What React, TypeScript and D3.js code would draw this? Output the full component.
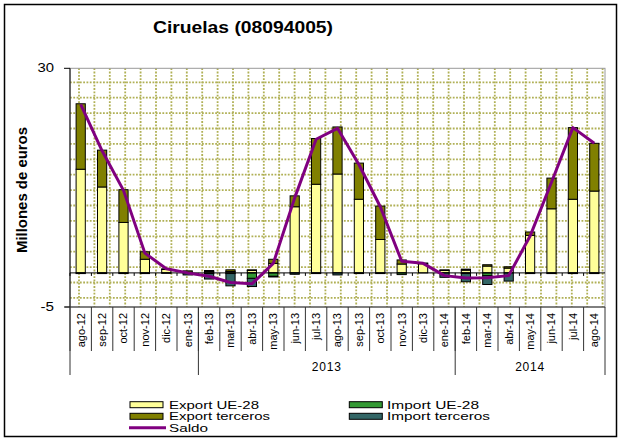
import React from 'react';
import * as d3 from 'd3';

const months = ['ago-12','sep-12','oct-12','nov-12','dic-12','ene-13','feb-13','mar-13','abr-13','may-13','jun-13','jul-13','ago-13','sep-13','oct-13','nov-13','dic-13','ene-14','feb-14','mar-14','abr-14','may-14','jun-14','jul-14','ago-14'];
const exportUE = [15.2,12.6,7.4,2.0,0.5,0.1,0.2,0.2,0.35,1.4,9.7,13.0,14.5,10.8,4.9,1.3,1.35,0.35,0.4,1.0,0.7,5.5,9.4,10.8,12.0];
const exportTerceros = [9.6,5.4,4.8,1.1,0.1,0.2,0.15,0.25,0.1,0.6,1.6,6.7,6.9,5.3,4.9,0.6,0.1,0.1,0.15,0.2,0.2,0.5,4.5,10.5,7.0];
const importUE = [0,0,0,0,0,0,-0.1,-0.1,-0.8,-0.5,0,0,0,0,0,-0.25,0,0,-0.1,-0.4,0,0,0,0,0];
const importTerceros = [-0.1,-0.1,-0.1,-0.1,-0.05,-0.3,-0.8,-1.8,-1.2,-0.1,-0.2,-0.1,-0.3,-0.1,-0.1,0,0,-0.65,-1.2,-1.3,-1.2,-0.1,-0.1,-0.1,-0.1];
const saldo = [24.7,17.9,12.1,2.9,0.6,0.0,-0.5,-1.4,-1.6,1.4,11.0,19.6,21.2,15.9,9.7,1.7,1.4,-0.4,-0.75,-0.7,-0.4,5.4,13.3,21.3,19.0];

const yearLabels = ['', '2013', '2014'];
const yearSpans = [6, 12, 7];
const yTicks = [30, -5];

const seriesKeys = ['Export UE-28', 'Export terceros', 'Import UE-28', 'Import terceros'];
const seriesColors = ['#FFFF99', '#808000', '#339933', '#336666'];
const saldoColor = '#800080';

const FONT = 'Arial, "Liberation Sans", sans-serif';

export default function App() {
  const W = 621, H = 441;
  const left = 70, right = 605, top = 68.3, bottom = 307;

  const x = d3.scaleBand<string>().domain(months).range([left, right]).paddingInner(0).paddingOuter(0);
  const y = d3.scaleLinear().domain([-5, 30]).range([bottom, top]);
  const bw = x.bandwidth();
  const barW = bw * 0.43;

  const rows = months.map((m, i) => ({
    month: m,
    'Export UE-28': exportUE[i],
    'Export terceros': exportTerceros[i],
    'Import UE-28': importUE[i],
    'Import terceros': importTerceros[i],
  }));
  const stacked = d3.stack<any>().keys(seriesKeys).offset(d3.stackOffsetDiverging)(rows);

  const line = d3.line<number>()
    .x((_, i) => (x(months[i]) as number) + bw / 2)
    .y((d) => y(d));

  // background pattern of plot area (dotted grid)
  const cell = 15.4;
  const vLines: number[] = [];
  for (let gx = 79; gx < right; gx += cell) vLines.push(gx);
  const hLines: number[] = [];
  for (let gy = 82.3; gy < bottom; gy += cell) hLines.push(gy);

  const groupBounds: number[] = [0];
  yearSpans.forEach((s, i) => groupBounds.push(groupBounds[i] + s));
  const bx = (i: number) => (i < months.length ? (x(months[i]) as number) : right);

  const legendItems = [
    { key: 'Export UE-28', color: seriesColors[0], x: 130, y: 401.7, tx: 169, tl: 90 },
    { key: 'Export terceros', color: seriesColors[1], x: 130, y: 413.3, tx: 169, tl: 101 },
    { key: 'Import UE-28', color: seriesColors[2], x: 349.3, y: 401.7, tx: 387, tl: 92 },
    { key: 'Import terceros', color: seriesColors[3], x: 349.3, y: 413.3, tx: 387, tl: 103 },
  ];

  return (
    <svg width={W} height={H} style={{ position: 'absolute', left: 0, top: 0, background: '#fff' }} fontFamily={FONT}>
      <rect x={0} y={0} width={W} height={H} fill="#fff" />
      <rect x={4.5} y={4.5} width={612} height={432} fill="none" stroke="#000" strokeWidth={1.5} />

      <text x={243} y={33} textAnchor="middle" fontSize={17} fontWeight="bold" textLength={180} lengthAdjust="spacingAndGlyphs">Ciruelas (08094005)</text>

      <g stroke="#B0B055" strokeWidth={1.8} strokeDasharray="1.8 1.5">
        {vLines.map((gx, i) => <line key={'v' + i} x1={gx} x2={gx} y1={top} y2={bottom} />)}
        {hLines.map((gy, i) => <line key={'h' + i} x1={left} x2={right} y1={gy} y2={gy} />)}
      </g>
      <rect x={left} y={top} width={right - left} height={bottom - top} fill="none" stroke="#9A9A9A" strokeWidth={1} />

      <line x1={left} x2={left} y1={top} y2={bottom} stroke="#000" strokeWidth={1} />
      {yTicks.map((t) => (
        <g key={t}>
          <line x1={left - 6} x2={left} y1={y(t)} y2={y(t)} stroke="#000" />
          <text x={54} y={y(t) + 4} textAnchor="end" fontSize={12} textLength={t === 30 ? 16.5 : 13.5} lengthAdjust="spacingAndGlyphs">{t}</text>
        </g>
      ))}
      <text transform={`translate(27,190) rotate(-90)`} textAnchor="middle" fontSize={14} fontWeight="bold" textLength={126} lengthAdjust="spacingAndGlyphs">Millones de euros</text>

      {stacked.map((s, si) => (
        <g key={s.key} fill={seriesColors[si]} stroke="#000" strokeWidth={1}>
          {s.map((d, i) => {
            const y0 = y(d[0]), y1 = y(d[1]);
            const h = Math.abs(y1 - y0);
            if (h < 0.01) return null;
            return <rect key={i} x={(x(months[i]) as number) + (bw - barW) / 2} y={Math.min(y0, y1)} width={barW} height={h} />;
          })}
        </g>
      ))}

      <line x1={left} x2={right} y1={y(0)} y2={y(0)} stroke="#000" strokeWidth={1} />
      {months.map((m, i) => (
        <line key={m} x1={bx(i)} x2={bx(i)} y1={y(0)} y2={y(0) + 3} stroke="#000" />
      ))}

      <path d={line(saldo) || ''} fill="none" stroke={saldoColor} strokeWidth={3} strokeLinejoin="round" />

      <line x1={left - 5} x2={right} y1={bottom} y2={bottom} stroke="#333" strokeWidth={1} />
      {months.map((m, i) => (
        <line key={'c' + m} x1={bx(i)} x2={bx(i)} y1={bottom} y2={351} stroke="#333" />
      ))}
      {groupBounds.map((g, i) => (
        <line key={'g' + i} x1={bx(g)} x2={bx(g)} y1={bottom} y2={375} stroke="#333" />
      ))}
      {months.map((m) => (
        <text key={'t' + m} transform={`translate(${(x(m) as number) + bw / 2},313) rotate(-90)`} textAnchor="end" dy="0.35em" fontSize={11}>{m}</text>
      ))}
      {yearLabels.map((lab, i) => (
        <text key={'y' + i} x={(bx(groupBounds[i]) + bx(groupBounds[i + 1])) / 2} y={371} textAnchor="middle" fontSize={12} letterSpacing={0.8}>{lab}</text>
      ))}

      {legendItems.map((it) => (
        <g key={it.key}>
          <rect x={it.x} y={it.y} width={33} height={6} fill={it.color} stroke="#000" strokeWidth={1} />
          <text x={it.tx} y={it.y + 7} fontSize={10.5} textLength={it.tl} lengthAdjust="spacingAndGlyphs">{it.key}</text>
        </g>
      ))}
      <line x1={129} x2={166} y1={427.7} y2={427.7} stroke={saldoColor} strokeWidth={3} />
      <text x={169} y={432} fontSize={10.5} textLength={39} lengthAdjust="spacingAndGlyphs">Saldo</text>
    </svg>
  );
}
